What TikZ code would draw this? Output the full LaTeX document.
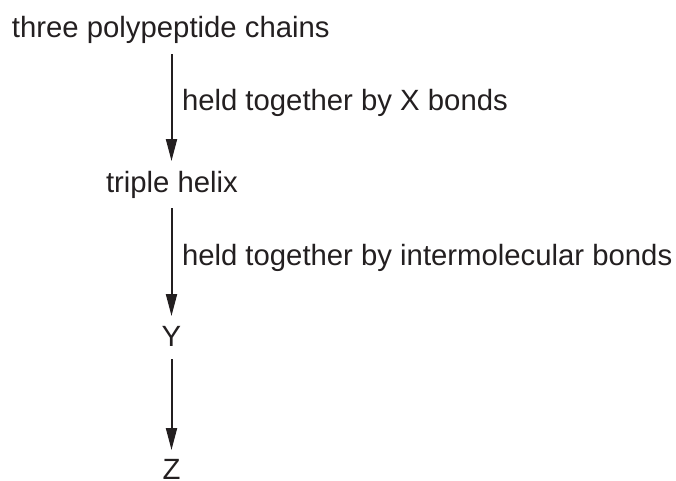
\documentclass[tikz,border=0pt]{standalone}
\usepackage{fontspec}
\setmainfont{Liberation Sans}
\usetikzlibrary{arrows.meta}
\definecolor{ink}{HTML}{231F20}
\begin{document}
\begin{tikzpicture}[x=1pt,y=-1pt,
  txt/.style={inner sep=0pt, outer sep=0pt, text=ink, font=\fontsize{29.3}{34}\selectfont},
  arr/.style={draw=ink, line width=2pt, -{Triangle[length=22pt,width=11pt]}}]
\useasboundingbox (0,0) rectangle (676,480);
\node[txt, anchor=base west] (top) at (12,37) {three polypeptide chains};
\node[txt, anchor=base west] (lab1) at (182,110.5) {held together by X bonds};
\node[txt, anchor=base west] (helix) at (106,192) {triple helix};
\node[txt, anchor=base west] (lab2) at (182,265.5) {held together by intermolecular bonds};
\node[txt, anchor=base] (Y) at (171.5,346.5) {Y};
\node[txt, anchor=base] (Z) at (171.5,479.5) {Z};
\coordinate (a1s) at (171.5,54);
\coordinate (a1e) at (171.5,161);
\coordinate (a2s) at (171.5,208);
\coordinate (a2e) at (171.5,316);
\coordinate (a3s) at (171.5,359);
\coordinate (a3e) at (171.5,450);
\draw[arr] (a1s) -- (a1e);
\draw[arr] (a2s) -- (a2e);
\draw[arr] (a3s) -- (a3e);
\end{tikzpicture}
\end{document}
